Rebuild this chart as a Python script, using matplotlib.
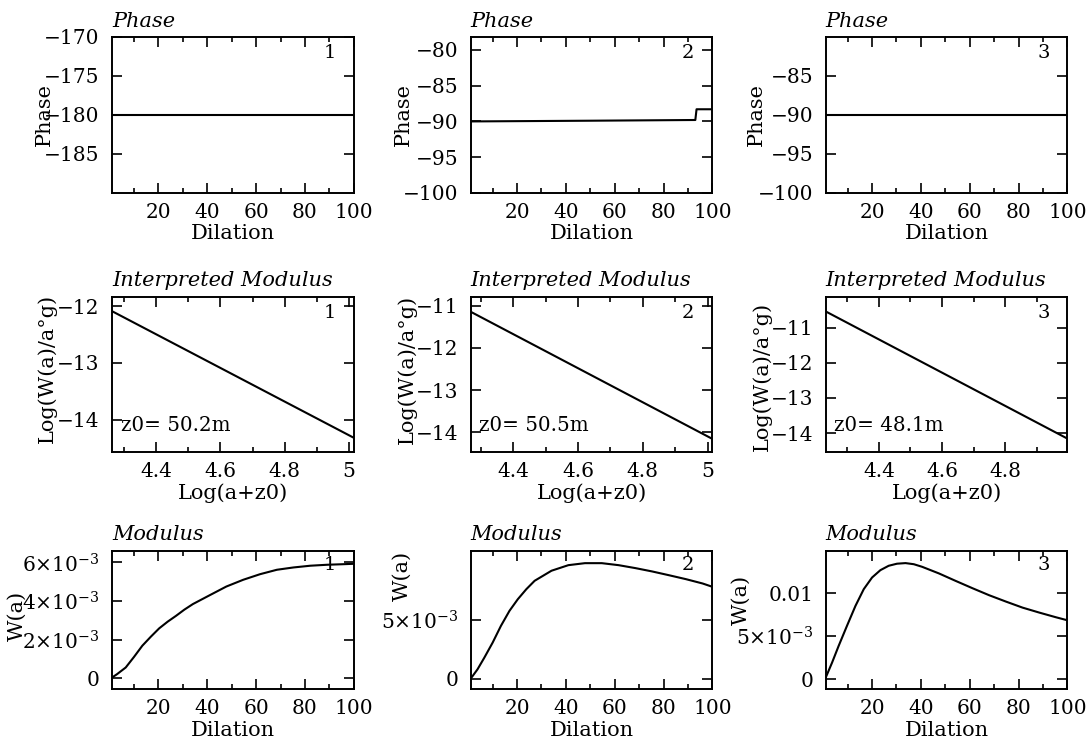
import matplotlib
matplotlib.use('Agg')
import matplotlib.pyplot as plt
from matplotlib.ticker import MultipleLocator, FixedLocator, FixedFormatter

plt.rcParams['font.family'] = 'DejaVu Serif'
plt.rcParams['mathtext.fontset'] = 'dejavuserif'
plt.rcParams['font.size'] = 14.5

# --- data ---
# phase (top row)
phase_dil_1 = [1, 100]
phase_val_1 = [-180, -180]
phase_dil_2 = [1, 50, 93, 93.5, 100]
phase_val_2 = [-90, -89.9, -89.8, -88.3, -88.3]
phase_dil_3 = [1, 100]
phase_val_3 = [-90, -90]

# interpreted modulus (middle row): log(a+z0) vs log(W(a)/a^g)
imod_x_1 = [4.263, 5.015]
imod_y_1 = [-12.09, -14.32]
imod_x_2 = [4.268, 5.015]
imod_y_2 = [-11.14, -14.16]
imod_x_3 = [4.231, 4.998]
imod_y_3 = [-10.54, -14.16]
z0_labels = ['z0= 50.2m', 'z0= 50.5m', 'z0= 48.1m']

# modulus (bottom row), W in units of 1e-3
mod_dil_1 = [1, 3, 6.6, 10, 13.4, 16.9, 20.3, 23.8, 27.2, 30.6, 34.1, 41, 47.8,
             54.7, 61.6, 68.5, 75.3, 82.2, 89.1, 96, 100]
mod_w_1 = [0.03, 0.2, 0.55, 1.1, 1.68, 2.15, 2.58, 2.93, 3.23, 3.55, 3.84, 4.3, 4.75,
           5.1, 5.39, 5.62, 5.74, 5.83, 5.88, 5.91, 5.93]
mod_dil_2 = [1, 3.8, 6.6, 10, 13.4, 16.9, 20.3, 23.8, 27.2, 34.1, 41, 47.8, 54.7,
             61.6, 68.5, 75.3, 82.2, 89.1, 96, 100]
mod_w_2 = [0.0, 0.79, 1.78, 3.05, 4.47, 5.74, 6.72, 7.57, 8.28, 9.13, 9.6, 9.77, 9.77,
           9.6, 9.35, 9.07, 8.75, 8.42, 8.05, 7.77]
mod_dil_3 = [1.1, 3.6, 6.3, 9.7, 13.2, 16.6, 20, 23.4, 26.8, 30.2, 33.7, 37.1, 40.5, 47.4, 54.2,
             61.1, 67.9, 74.8, 81.6, 88.5, 95.3, 100]
mod_w_3 = [0.27, 1.94, 3.88, 6.2, 8.53, 10.47, 11.82, 12.67, 13.18, 13.42, 13.49, 13.36, 13.06,
           12.29, 11.43, 10.58, 9.77, 9.03, 8.33, 7.75, 7.21, 6.86]

dil_ticks = [20, 40, 60, 80, 100]
dil_ticklabels = ['20', '40', '60', '80', '100']

# axes layout (figure fractions)
col_x = [0.1027, 0.4314, 0.7568]
col_w = 0.2216
row_y = [0.7406, 0.3925, 0.0733]
row_h = [0.2097, 0.2083, 0.1855]

fig = plt.figure(figsize=(10.91, 7.44), dpi=100)


def style(ax, xminor):
    ax.tick_params(which='both', direction='in', top=True, right=True, width=1.2)
    ax.tick_params(which='major', length=7)
    ax.tick_params(which='minor', length=3.5)
    ax.tick_params(axis='x', pad=7)
    ax.tick_params(axis='y', pad=9)
    ax.xaxis.set_minor_locator(MultipleLocator(xminor))
    for s in ax.spines.values():
        s.set_linewidth(1.4)


def number(ax, n):
    ax.text(0.9, 0.9, n, transform=ax.transAxes, ha='center', va='center', fontsize=14)


# top row: phase
phase_data = [(phase_dil_1, phase_val_1, (-190, -170), [-185, -180, -175, -170]),
              (phase_dil_2, phase_val_2, (-100, -78.2), [-100, -95, -90, -85, -80]),
              (phase_dil_3, phase_val_3, (-100, -80), [-100, -95, -90, -85])]
ylab_top = [-0.24, -0.239, -0.247]
for i, (xd, yd, ylim, yt) in enumerate(phase_data):
    ax = fig.add_axes([col_x[i], row_y[0], col_w, row_h[0]])
    ax.plot(xd, yd, color='black', lw=1.5)
    ax.set_xlim(1, 100)
    ax.set_ylim(*ylim)
    ax.set_xticks(dil_ticks)
    ax.set_xticklabels(dil_ticklabels)
    ax.set_yticks(yt)
    ax.set_yticklabels(['\u2212%d' % abs(v) for v in yt])
    style(ax, 10)
    ax.set_title('Phase', loc='left', style='italic', fontsize=15, pad=7)
    ax.set_xlabel('Dilation', labelpad=2, fontsize=15)
    ax.set_ylabel('Phase', fontsize=15)
    ax.yaxis.set_label_coords(ylab_top[i], 0.5)
    number(ax, str(i + 1))

# middle row: interpreted modulus
imod_data = [(imod_x_1, imod_y_1, (4.263, 5.015), (-14.57, -11.84), [-14, -13, -12], [4.4, 4.6, 4.8, 5]),
             (imod_x_2, imod_y_2, (4.268, 5.015), (-14.47, -10.79), [-14, -13, -12, -11], [4.4, 4.6, 4.8, 5]),
             (imod_x_3, imod_y_3, (4.231, 4.998), (-14.54, -10.13), [-14, -13, -12, -11], [4.4, 4.6, 4.8])]
ylab_mid = [(-0.227, 0.54), (-0.222, 0.53), (-0.222, 0.49)]
for i, (xd, yd, xlim, ylim, yt, xt) in enumerate(imod_data):
    ax = fig.add_axes([col_x[i], row_y[1], col_w, row_h[1]])
    ax.plot(xd, yd, color='black', lw=1.5)
    ax.set_xlim(*xlim)
    ax.set_ylim(*ylim)
    ax.set_xticks(xt)
    ax.set_xticklabels([('%g' % v) for v in xt])
    ax.set_yticks(yt)
    ax.set_yticklabels(['\u2212%d' % abs(v) for v in yt])
    style(ax, 0.1)
    ax.set_title('Interpreted Modulus', loc='left', style='italic', fontsize=15, pad=8)
    ax.set_xlabel('Log(a+z0)', labelpad=2, fontsize=15)
    ax.set_ylabel('Log(W(a)/a\u00b0g)', fontsize=15)
    ax.yaxis.set_label_coords(*ylab_mid[i])
    ax.text(0.035, 0.17, z0_labels[i], transform=ax.transAxes, ha='left', va='center',
            fontsize=14.3)
    number(ax, str(i + 1))

# bottom row: modulus
mod_data = [(mod_dil_1, mod_w_1, (-0.59, 6.57), [0, 2, 4, 6],
             ['0', r'$2{\times}10^{-3}$', r'$4{\times}10^{-3}$', r'$6{\times}10^{-3}$']),
            (mod_dil_2, mod_w_2, (-0.91, 10.76), [0, 5],
             ['0', r'$5{\times}10^{-3}$']),
            (mod_dil_3, mod_w_3, (-1.16, 14.84), [0, 5, 10],
             ['0', r'$5{\times}10^{-3}$', '0.01'])]
ylab_bot = [(-0.355, 0.53), (-0.243, 0.826), (-0.31, 0.65)]
for i, (xd, yd, ylim, yt, ytl) in enumerate(mod_data):
    ax = fig.add_axes([col_x[i], row_y[2], col_w, row_h[2]])
    ax.plot(xd, yd, color='black', lw=1.5)
    ax.set_xlim(1, 100)
    ax.set_ylim(*ylim)
    ax.set_xticks(dil_ticks)
    ax.set_xticklabels(dil_ticklabels)
    ax.yaxis.set_major_locator(FixedLocator(yt))
    ax.yaxis.set_major_formatter(FixedFormatter(ytl))
    style(ax, 10)
    ax.set_title('Modulus', loc='left', style='italic', fontsize=15, pad=8)
    ax.set_xlabel('Dilation', labelpad=2, fontsize=15)
    ax.set_ylabel('W(a)', fontsize=15)
    ax.yaxis.set_label_coords(*ylab_bot[i])
    number(ax, str(i + 1))

fig.savefig('out.png', dpi=100)
